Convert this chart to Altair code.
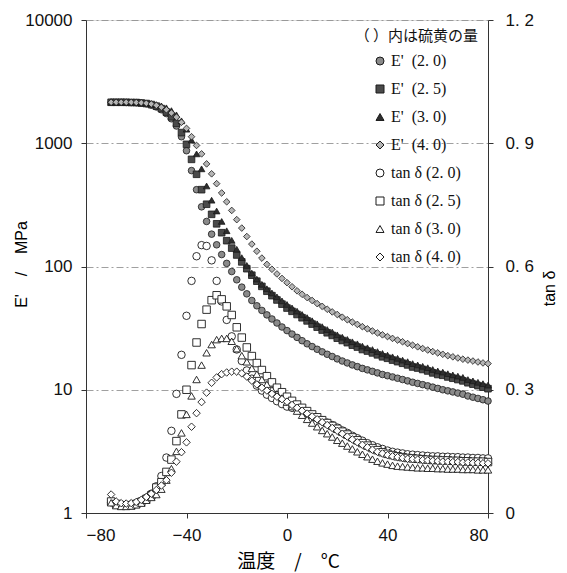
import altair as alt
import pandas as pd

temps = [-70, -68, -66, -64, -62, -60, -58, -56, -54, -52,
         -50, -48, -46, -44, -42, -40, -38, -36, -34, -32,
         -30, -28, -26, -24, -22, -20, -18, -16, -14, -12,
         -10, -8, -6, -4, -2, 0, 2, 4, 6, 8,
         10, 12, 14, 16, 18, 20, 22, 24, 26, 28,
         30, 32, 34, 36, 38, 40, 42, 44, 46, 48,
         50, 52, 54, 56, 58, 60, 62, 64, 66, 68,
         70, 72, 74, 76, 78, 80]

E_20 = [2150, 2150, 2150, 2140, 2140, 2130, 2120, 2090, 2040, 1970,
        1870, 1740, 1580, 1380, 1130, 870, 600, 420, 305, 232,
        183, 150, 125, 106, 91, 78, 68, 60, 53, 48,
        44, 40.5, 37.5, 34.8, 32.3, 30.2, 28.3, 26.6, 25.0, 23.6,
        22.4, 21.3, 20.3, 19.4, 18.6, 17.8, 17.1, 16.5, 15.9, 15.4,
        14.9, 14.5, 14.1, 13.7, 13.3, 13.0, 12.7, 12.4, 12.1, 11.8,
        11.5, 11.25, 11.0, 10.75, 10.5, 10.25, 10.0, 9.8, 9.6, 9.4,
        9.2, 8.9, 8.7, 8.5, 8.3, 8.1]

E_25 = [2150, 2150, 2150, 2150, 2140, 2140, 2120, 2100, 2060, 2000,
        1910, 1790, 1640, 1450, 1220, 980, 740, 560, 420, 320,
        265, 222, 188, 162, 141, 124, 109, 96, 85, 76,
        69, 63, 58, 53.5, 49.5, 46, 43.3, 40.8, 38.4, 36.2,
        34.1, 32.2, 30.5, 29.0, 27.6, 26.2, 25.1, 24.1, 23.0, 22.2,
        21.2, 20.6, 19.9, 19.2, 18.5, 18.0, 17.4, 16.9, 16.4, 15.9,
        15.3, 15.0, 14.6, 14.2, 13.7, 13.3, 13.1, 12.7, 12.4, 12.1,
        11.8, 11.4, 11.1, 10.8, 10.5, 10.2]

E_30 = [2150, 2150, 2150, 2150, 2150, 2140, 2130, 2120, 2100, 2060,
        2010, 1940, 1840, 1700, 1520, 1300, 1060, 820, 620, 450,
        345, 282, 232, 195, 163, 138, 118, 102, 88.5, 79,
        71.7, 66, 61, 56.7, 52.6, 49.2, 46.1, 43.4, 40.8, 38.5,
        36.3, 34.3, 32.5, 30.8, 29.4, 27.9, 26.7, 25.6, 24.5, 23.6,
        22.6, 21.9, 21.2, 20.4, 19.7, 19.1, 18.5, 18.0, 17.4, 16.9,
        16.3, 15.9, 15.5, 15.1, 14.6, 14.2, 13.9, 13.5, 13.2, 12.9,
        12.6, 12.1, 11.8, 11.5, 11.2, 10.9]

E_40 = [2150, 2150, 2150, 2150, 2150, 2140, 2130, 2110, 2080, 2030,
        1960, 1870, 1760, 1630, 1480, 1320, 1130, 960, 820, 680,
        565, 470, 395, 335, 285, 240, 205, 175, 152, 133,
        117, 104, 95, 87, 80, 74, 68.5, 63.5, 59.5, 56,
        53, 50, 47.5, 45, 42.8, 40.8, 38.8, 37, 35.4, 33.9,
        32.5, 31.2, 30, 28.9, 27.9, 27, 26.1, 25.3, 24.5, 23.7,
        23, 22.3, 21.6, 21, 20.4, 19.9, 19.4, 18.9, 18.5, 18.1,
        17.7, 17.4, 17.1, 16.8, 16.5, 16.3]

T_20 = [0.026, 0.022, 0.020, 0.020, 0.021, 0.024, 0.030, 0.037, 0.047, 0.065,
        0.090, 0.135, 0.200, 0.290, 0.385, 0.480, 0.565, 0.625, 0.652, 0.650,
        0.615, 0.565, 0.515, 0.470, 0.430, 0.398, 0.370, 0.347, 0.327, 0.310,
        0.298, 0.288, 0.280, 0.272, 0.265, 0.259, 0.256, 0.252, 0.248, 0.243,
        0.238, 0.232, 0.226, 0.220, 0.214, 0.208, 0.201, 0.195, 0.188, 0.182,
        0.176, 0.170, 0.165, 0.160, 0.156, 0.152, 0.149, 0.147, 0.145, 0.143,
        0.142, 0.141, 0.140, 0.139, 0.138, 0.138, 0.137, 0.137, 0.136, 0.136,
        0.135, 0.135, 0.134, 0.134, 0.133, 0.133]

T_25 = [0.028, 0.022, 0.019, 0.018, 0.019, 0.022, 0.027, 0.034, 0.043, 0.062,
        0.075, 0.100, 0.130, 0.175, 0.240, 0.300, 0.360, 0.415, 0.460, 0.495,
        0.518, 0.530, 0.520, 0.503, 0.482, 0.452, 0.427, 0.403, 0.382, 0.365,
        0.348, 0.333, 0.318, 0.305, 0.294, 0.283, 0.273, 0.264, 0.256, 0.248,
        0.240, 0.233, 0.226, 0.219, 0.212, 0.205, 0.198, 0.191, 0.184, 0.177,
        0.170, 0.164, 0.158, 0.153, 0.148, 0.144, 0.141, 0.138, 0.136, 0.134,
        0.133, 0.132, 0.131, 0.130, 0.129, 0.129, 0.128, 0.128, 0.127, 0.127,
        0.126, 0.126, 0.125, 0.125, 0.125, 0.124]

T_30 = [0.025, 0.018, 0.016, 0.016, 0.017, 0.020, 0.024, 0.031, 0.038, 0.045,
        0.058, 0.080, 0.108, 0.150, 0.195, 0.240, 0.285, 0.325, 0.360, 0.390,
        0.410, 0.422, 0.425, 0.425, 0.418, 0.400, 0.383, 0.368, 0.352, 0.338,
        0.325, 0.313, 0.300, 0.290, 0.280, 0.270, 0.259, 0.248, 0.238, 0.228,
        0.219, 0.210, 0.201, 0.193, 0.185, 0.177, 0.170, 0.163, 0.156, 0.149,
        0.143, 0.137, 0.131, 0.126, 0.122, 0.119, 0.116, 0.114, 0.113, 0.112,
        0.111, 0.110, 0.110, 0.109, 0.109, 0.108, 0.108, 0.107, 0.107, 0.107,
        0.106, 0.106, 0.106, 0.105, 0.105, 0.105]

T_40 = [0.045, 0.028, 0.024, 0.023, 0.024, 0.027, 0.032, 0.039, 0.047, 0.056,
        0.067, 0.080, 0.098, 0.125, 0.148, 0.172, 0.210, 0.243, 0.270, 0.293,
        0.317, 0.330, 0.338, 0.342, 0.344, 0.344, 0.340, 0.332, 0.322, 0.313,
        0.305, 0.298, 0.290, 0.283, 0.277, 0.271, 0.263, 0.256, 0.249, 0.242,
        0.235, 0.228, 0.221, 0.214, 0.207, 0.200, 0.193, 0.186, 0.179, 0.172,
        0.166, 0.160, 0.154, 0.149, 0.145, 0.141, 0.138, 0.136, 0.134, 0.132,
        0.131, 0.130, 0.129, 0.128, 0.127, 0.126, 0.125, 0.125, 0.124, 0.124,
        0.123, 0.123, 0.122, 0.122, 0.121, 0.121]

e_labels = ["E'\u00a0\u00a0(2. 0)", "E'\u00a0\u00a0(2. 5)", "E'\u00a0\u00a0(3. 0)", "E'\u00a0\u00a0(4. 0)"]
t_labels = ["tan δ (2. 0)", "tan δ (2. 5)", "tan δ (3. 0)", "tan δ (4. 0)"]
all_labels = e_labels + t_labels
shapes = ["circle", "square", "triangle-up", "diamond"] * 2
fills = ["#8a8a8a", "#4a4a4a", "#2e2e2e", "#b5b5b5",
         "#ffffff", "#ffffff", "#ffffff", "#ffffff"]
strokes = ["#1a1a1a"] * 8

x_ticks = [-80, -40, 0, 40, 80]
e_ticks = [1, 10, 100, 1000, 10000]
t_ticks = [0, 0.3, 0.6, 0.9, 1.2]

rows_e = []
for lab, vals in zip(e_labels, [E_20, E_25, E_30, E_40]):
    for t, v in zip(temps, vals):
        rows_e.append({"T": t, "v": v, "series": lab})
rows_t = []
for lab, vals in zip(t_labels, [T_20, T_25, T_30, T_40]):
    for t, v in zip(temps, vals):
        rows_t.append({"T": t, "v": v, "series": lab})
df_e = pd.DataFrame(rows_e)
df_t = pd.DataFrame(rows_t)

SANS = "Liberation Sans"
CJK = "Noto Sans CJK JP"
SERIF = "Liberation Serif"
NB = "\u00a0"

legend = alt.Legend(
    title=None, orient="none", legendX=286, legendY=33,
    labelFont=SERIF, labelFontSize=16, labelColor="#111",
    symbolSize=64, symbolStrokeWidth=1,
    rowPadding=12, labelOffset=3,
)
shape_enc = alt.Shape("series:N", scale=alt.Scale(domain=all_labels, range=shapes), legend=legend)
fill_enc = alt.Fill("series:N", scale=alt.Scale(domain=all_labels, range=fills), legend=legend)
stroke_enc = alt.Stroke("series:N", scale=alt.Scale(domain=all_labels, range=strokes), legend=legend)

x_enc = alt.X("T:Q", scale=alt.Scale(domain=[-80, 80], nice=False, zero=False),
              axis=alt.Axis(values=x_ticks, format="d", title="温度　/　°C",
                            titleFont=CJK, titleFontSize=19, titleFontWeight="normal",
                            titleX=202, titleY=48, titleAlign="center", titleBaseline="middle",
                            labelFont=SANS, labelFontSize=17, labelColor="#111",
                            labelPadding=9, tickSize=5, grid=False,
                            domainColor="#333", tickColor="#333"))

e_layer = alt.Chart(df_e).mark_point(filled=True, strokeWidth=0.8,
                                     opacity=1, size=44).encode(
    x=x_enc,
    y=alt.Y("v:Q", scale=alt.Scale(type="log", domain=[1, 10000], nice=False),
            axis=alt.Axis(values=e_ticks, format="d",
                          title="E'" + NB * 4 + "/" + NB * 4 + "MPa",
                          titleFont=SANS, titleFontSize=16, titleFontWeight="normal",
                          titleAngle=270, titleX=-65, titleY=244,
                          titleAlign="center", titleBaseline="middle",
                          labelFont=SANS, labelFontSize=17, labelColor="#111",
                          labelPadding=9, tickSize=5,
                          grid=True, gridColor="#888", gridDash=[7, 3, 2, 3], gridWidth=0.8,
                          domainColor="#333", tickColor="#333")),
    shape=shape_enc,
    fill=fill_enc,
    stroke=stroke_enc,
)

t_layer = alt.Chart(df_t).mark_point(filled=True, strokeWidth=0.9,
                                     opacity=1, size=56).encode(
    x=x_enc,
    y=alt.Y("v:Q", scale=alt.Scale(domain=[0, 1.2], nice=False),
            axis=alt.Axis(orient="right", values=t_ticks, title="tan δ",
                          labelExpr="datum.value == 0 ? '0' : replace(format(datum.value, '.1f'), '.', '. ')",
                          titleFont=SANS, titleFontSize=16, titleFontWeight="normal",
                          titleAngle=270, titleX=61, titleY=268,
                          titleAlign="center", titleBaseline="middle",
                          labelFont=SANS, labelFontSize=17, labelColor="#111",
                          labelPadding=12, tickSize=5, grid=False,
                          domainColor="#333", tickColor="#333")),
    shape=shape_enc,
    fill=fill_enc,
    stroke=stroke_enc,
)

chart = alt.layer(e_layer, t_layer).resolve_scale(y="independent").properties(
    width=402, height=493,
    autosize=alt.AutoSizeParams(type="none"),
    padding={"left": 78, "top": 12, "right": 71, "bottom": 60},
    title=alt.TitleParams(text="（ ）内は硫黄の量", anchor="end", frame="group", orient="top",
                          offset=0, dx=-10, dy=40, baseline="middle",
                          font=CJK, fontSize=15, fontWeight="normal", color="#111"),
).configure_view(stroke="#333", strokeWidth=1).configure(background="white")

chart.save("out.html", embed_options={"renderer": "svg", "actions": False})
